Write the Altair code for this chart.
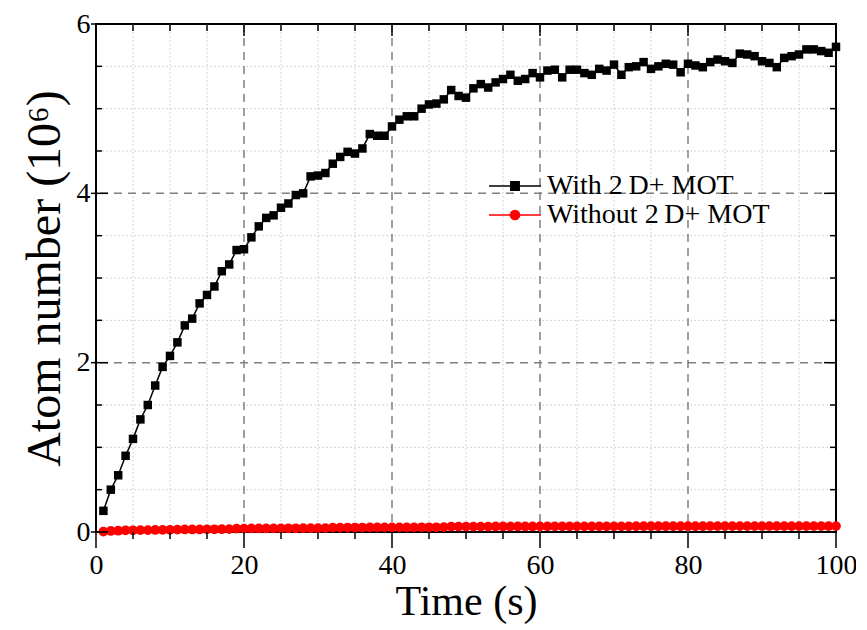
import altair as alt
import pandas as pd

# ---------------- data ----------------
time_s = [1, 2, 3, 4, 5, 6, 7, 8, 9, 10, 11, 12, 13, 14, 15, 16, 17, 18, 19, 20,
          21, 22, 23, 24, 25, 26, 27, 28, 29, 30, 31, 32, 33, 34, 35, 36, 37, 38, 39, 40,
          41, 42, 43, 44, 45, 46, 47, 48, 49, 50, 51, 52, 53, 54, 55, 56, 57, 58, 59, 60,
          61, 62, 63, 64, 65, 66, 67, 68, 69, 70, 71, 72, 73, 74, 75, 76, 77, 78, 79, 80,
          81, 82, 83, 84, 85, 86, 87, 88, 89, 90, 91, 92, 93, 94, 95, 96, 97, 98, 99, 100]

with_2d = [0.25, 0.50, 0.67, 0.90, 1.10, 1.33, 1.50, 1.73, 1.95, 2.08,
           2.24, 2.44, 2.52, 2.70, 2.80, 2.90, 3.08, 3.16, 3.33, 3.34,
           3.48, 3.61, 3.71, 3.74, 3.83, 3.88, 3.98, 4.00, 4.20, 4.21,
           4.24, 4.35, 4.43, 4.49, 4.47, 4.53, 4.70, 4.68, 4.68, 4.79,
           4.87, 4.91, 4.91, 5.00, 5.05, 5.06, 5.11, 5.22, 5.15, 5.13,
           5.24, 5.29, 5.25, 5.31, 5.35, 5.40, 5.33, 5.35, 5.42, 5.37,
           5.45, 5.46, 5.37, 5.46, 5.46, 5.42, 5.40, 5.47, 5.45, 5.52,
           5.40, 5.49, 5.50, 5.55, 5.47, 5.50, 5.53, 5.52, 5.43, 5.53,
           5.51, 5.49, 5.55, 5.58, 5.56, 5.54, 5.65, 5.64, 5.62, 5.56,
           5.54, 5.49, 5.60, 5.62, 5.64, 5.70, 5.70, 5.68, 5.66, 5.73]

without_2d = [0.005, 0.012, 0.015, 0.020, 0.020, 0.022, 0.022, 0.024, 0.025, 0.025,
              0.028, 0.030, 0.030, 0.030, 0.032, 0.032, 0.033, 0.034, 0.040, 0.040,
              0.042, 0.042, 0.042, 0.043, 0.043, 0.044, 0.044, 0.045, 0.045, 0.045,
              0.046, 0.052, 0.052, 0.053, 0.053, 0.053, 0.054, 0.054, 0.054, 0.055,
              0.055, 0.055, 0.055, 0.056, 0.056, 0.056, 0.057, 0.063, 0.063, 0.064,
              0.064, 0.064, 0.064, 0.065, 0.065, 0.065, 0.065, 0.065, 0.065, 0.066,
              0.066, 0.066, 0.066, 0.066, 0.066, 0.067, 0.067, 0.067, 0.067, 0.067,
              0.067, 0.067, 0.068, 0.068, 0.068, 0.068, 0.068, 0.068, 0.068, 0.068,
              0.068, 0.068, 0.069, 0.069, 0.069, 0.069, 0.069, 0.069, 0.069, 0.069,
              0.069, 0.069, 0.070, 0.070, 0.070, 0.070, 0.070, 0.070, 0.070, 0.070]

series_names = ["With 2\u2009D+ MOT", "Without 2\u2009D+ MOT"]
series_colors = ["#000000", "#ff0000"]

x_major = [0, 20, 40, 60, 80, 100]
x_minor = [5, 10, 15, 25, 30, 35, 45, 50, 55, 65, 70, 75, 85, 90, 95]
x_major_grid = [20, 40, 60, 80]
y_major = [0, 2, 4, 6]
y_minor = [0.5, 1, 1.5, 2.5, 3, 3.5, 4.5, 5, 5.5]
y_major_grid = [2, 4]

# ---------------- tables ----------------
df = pd.DataFrame({
    "t": time_s * 2,
    "n": with_2d + without_2d,
    "series": [series_names[0]] * len(time_s) + [series_names[1]] * len(time_s),
})
df_with = df[df["series"] == series_names[0]]
df_without = df[df["series"] == series_names[1]]

W, H = 740, 508
FONT = "Liberation Serif"

xscale = alt.Scale(domain=[0, 100], nice=False, zero=False)
yscale = alt.Scale(domain=[0, 6], nice=False, zero=False)

xaxis = alt.Axis(values=x_major, title="Time (s)", format="d", labelFlush=False,
                 labelOverlap=False, labelPadding=19, titlePadding=2, titleFontSize=42)
yaxis = alt.Axis(values=y_major, title="Atom number (10\u2076)", format="d",
                 labelFlush=False, labelOverlap=False, labelPadding=6, titlePadding=7,
                 titleFontSize=48)


def X(field):
    return alt.X(f"{field}:Q", scale=xscale, axis=xaxis)


def Y(field):
    return alt.Y(f"{field}:Q", scale=yscale, axis=yaxis)


# gridlines
minor_xg = alt.Chart(pd.DataFrame({"gx": x_minor})).mark_rule(
    color="#c8c8c8", strokeDash=[1.5, 2.5], strokeWidth=1
).encode(x=X("gx"))
minor_yg = alt.Chart(pd.DataFrame({"gy": y_minor})).mark_rule(
    color="#c8c8c8", strokeDash=[1.5, 2.5], strokeWidth=1
).encode(y=Y("gy"))
major_xg = alt.Chart(pd.DataFrame({"mx": x_major_grid})).mark_rule(
    color="#808080", strokeDash=[8, 6], strokeWidth=1.5
).encode(x=X("mx"))
major_yg = alt.Chart(pd.DataFrame({"my": y_major_grid})).mark_rule(
    color="#808080", strokeDash=[8, 6], strokeWidth=1.5
).encode(y=Y("my"))

# ticks (drawn as rules)
tx_major = pd.DataFrame({"tx": x_major})
tx_minor = pd.DataFrame({"tx": x_minor})
ty_major = pd.DataFrame({"ty": y_major})
ty_minor = pd.DataFrame({"ty": y_minor})
tick = dict(color="black", strokeWidth=1.5)

ticks = [
    alt.Chart(tx_major).mark_rule(**tick).encode(x=X("tx"), y=alt.value(H), y2=alt.value(H + 16)),
    alt.Chart(tx_minor).mark_rule(**tick).encode(x=X("tx"), y=alt.value(H), y2=alt.value(H + 7)),
    alt.Chart(tx_major).mark_rule(**tick).encode(x=X("tx"), y=alt.value(0), y2=alt.value(12)),
    alt.Chart(tx_minor).mark_rule(**tick).encode(x=X("tx"), y=alt.value(0), y2=alt.value(7)),
    alt.Chart(ty_major).mark_rule(**tick).encode(y=Y("ty"), x=alt.value(-5), x2=alt.value(12)),
    alt.Chart(ty_minor).mark_rule(**tick).encode(y=Y("ty"), x=alt.value(0), x2=alt.value(6)),
    alt.Chart(ty_major).mark_rule(**tick).encode(y=Y("ty"), x=alt.value(W - 12), x2=alt.value(W)),
    alt.Chart(ty_minor).mark_rule(**tick).encode(y=Y("ty"), x=alt.value(W - 6), x2=alt.value(W)),
]

# data series
line_with = alt.Chart(df_with).mark_line(color=series_colors[0], strokeWidth=1.5).encode(x=X("t"), y=Y("n"))
pts_with = alt.Chart(df_with).mark_point(filled=True, shape="square", size=72, opacity=1,
                                         color=series_colors[0]).encode(x=X("t"), y=Y("n"))
line_without = alt.Chart(df_without).mark_line(color=series_colors[1], strokeWidth=1.5).encode(x=X("t"), y=Y("n"))
pts_without = alt.Chart(df_without).mark_point(filled=True, shape="circle", size=95, opacity=1,
                                               color=series_colors[1]).encode(x=X("t"), y=Y("n"))

# legend-only layer (no visible marks): custom line+marker symbols
sq_path = "M-2.6,0H2.6M-0.42,-0.42H0.42V0.42H-0.42Z"
ci_path = "M-2.6,0H2.6M-0.46,0A0.46,0.46,0,1,1,0.46,0A0.46,0.46,0,1,1,-0.46,0Z"
legend_layer = alt.Chart(df).transform_filter("false").mark_point(filled=True).encode(
    x=X("t"), y=Y("n"),
    shape=alt.Shape("series:N", title=None,
                    scale=alt.Scale(domain=series_names, range=[sq_path, ci_path])),
    fill=alt.Fill("series:N", title=None,
                  scale=alt.Scale(domain=series_names, range=series_colors)),
    stroke=alt.Stroke("series:N", title=None,
                      scale=alt.Scale(domain=series_names, range=series_colors)),
)

chart = alt.layer(
    minor_xg, minor_yg, major_xg, major_yg,
    line_without, pts_without, line_with, pts_with,
    *ticks, legend_layer,
).properties(
    width=W, height=H,
    autosize=alt.AutoSizeParams(type="none"),
    padding={"left": 88, "top": 16, "right": 20, "bottom": 98},
).configure_view(
    stroke="black", strokeWidth=2
).configure_axis(
    domain=False, ticks=False, grid=False,
    labelFont=FONT, labelFontSize=28, labelColor="black",
    titleFont=FONT, titleFontWeight="normal", titleColor="black",
).configure_legend(
    orient="none", legendX=405, legendY=148,
    symbolSize=400, symbolStrokeWidth=1.5,
    labelFont=FONT, labelFontSize=28, labelColor="black", labelOffset=18, labelLimit=0,
    rowPadding=1, padding=0, symbolOpacity=1,
)

chart.save("out.html", embed_options={"renderer": "svg", "actions": False})
